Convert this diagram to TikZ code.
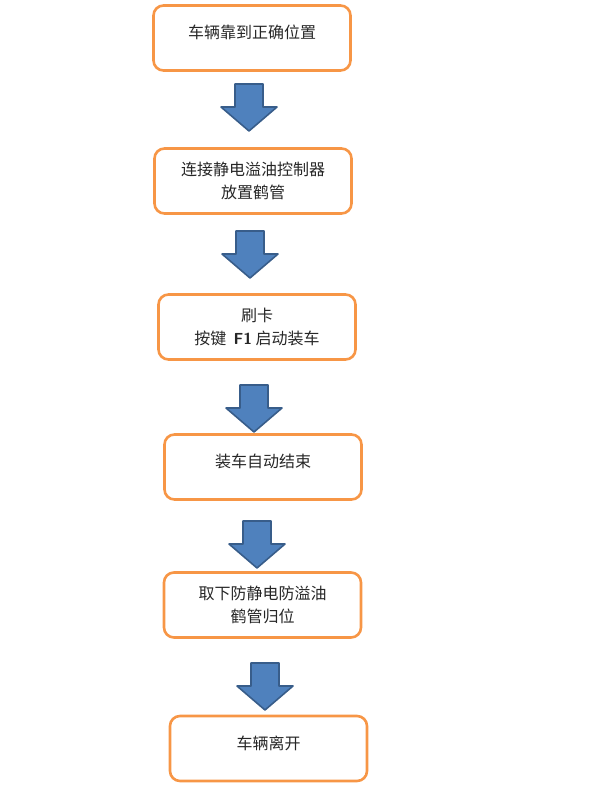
\documentclass[tikz,border=0pt]{standalone}
\usepackage{fontspec}
\newfontfamily\cjk{Noto Sans CJK SC}
\usepackage{tikz}
\usetikzlibrary{positioning}

\definecolor{boxorange}{HTML}{F79646}
\definecolor{arrowblue}{HTML}{4F81BD}
\definecolor{arrowedge}{HTML}{385D8A}

% block arrow pointing down, #1 = top middle of the shaft
\newcommand{\downarrowat}[1]{%
	\draw[arrow block] (#1) ++(-14,0) -- ++(28,0) -- ++(0,23) -- ++(14,0)
	-- ++(-28,24) -- ++(-28,-24) -- ++(14,0) -- cycle;}

\begin{document}
\begin{tikzpicture}[x=1pt,y=-1pt,
			step box/.style={rectangle,draw=boxorange,line width=2.6pt,
				rounded corners=10pt,minimum width=197pt,minimum height=65pt,
				align=center,text=black!85,font=\cjk\fontsize{16}{23.5}\selectfont},
			one line/.style={text depth=12pt},
			arrow block/.style={fill=arrowblue,draw=arrowedge,line width=1.6pt,
				line join=round}]
			
			\useasboundingbox (0,0) rectangle (599,786);
			
			\node[step box,one line] (A) at (252,38) {车辆靠到正确位置};
			\node[step box] (B) at (253,181) {连接静电溢油控制器\\放置鹤管};
			\node[step box] (C) at (257,327) {刷卡\\按键\ \ {\sffamily\bfseries F1} 启动装车};
			\node[step box,one line] (D) at (263,467) {装车自动结束};
			\node[step box] (E) at (262.5,605) {取下防静电防溢油\\鹤管归位};
			\node[step box,one line] (F) at (268.5,748.5) {车辆离开};
			
			% arrows between the steps
			\coordinate (a1) at (249,84);
			\coordinate (a2) at (250,231);
			\coordinate (a3) at (254,385);
			\coordinate (a4) at (257,521);
			\coordinate (a5) at (265,663);
			\foreach \a in {a1,a2,a3,a4,a5}
			\downarrowat{\a};
		\end{tikzpicture}
\end{document}
